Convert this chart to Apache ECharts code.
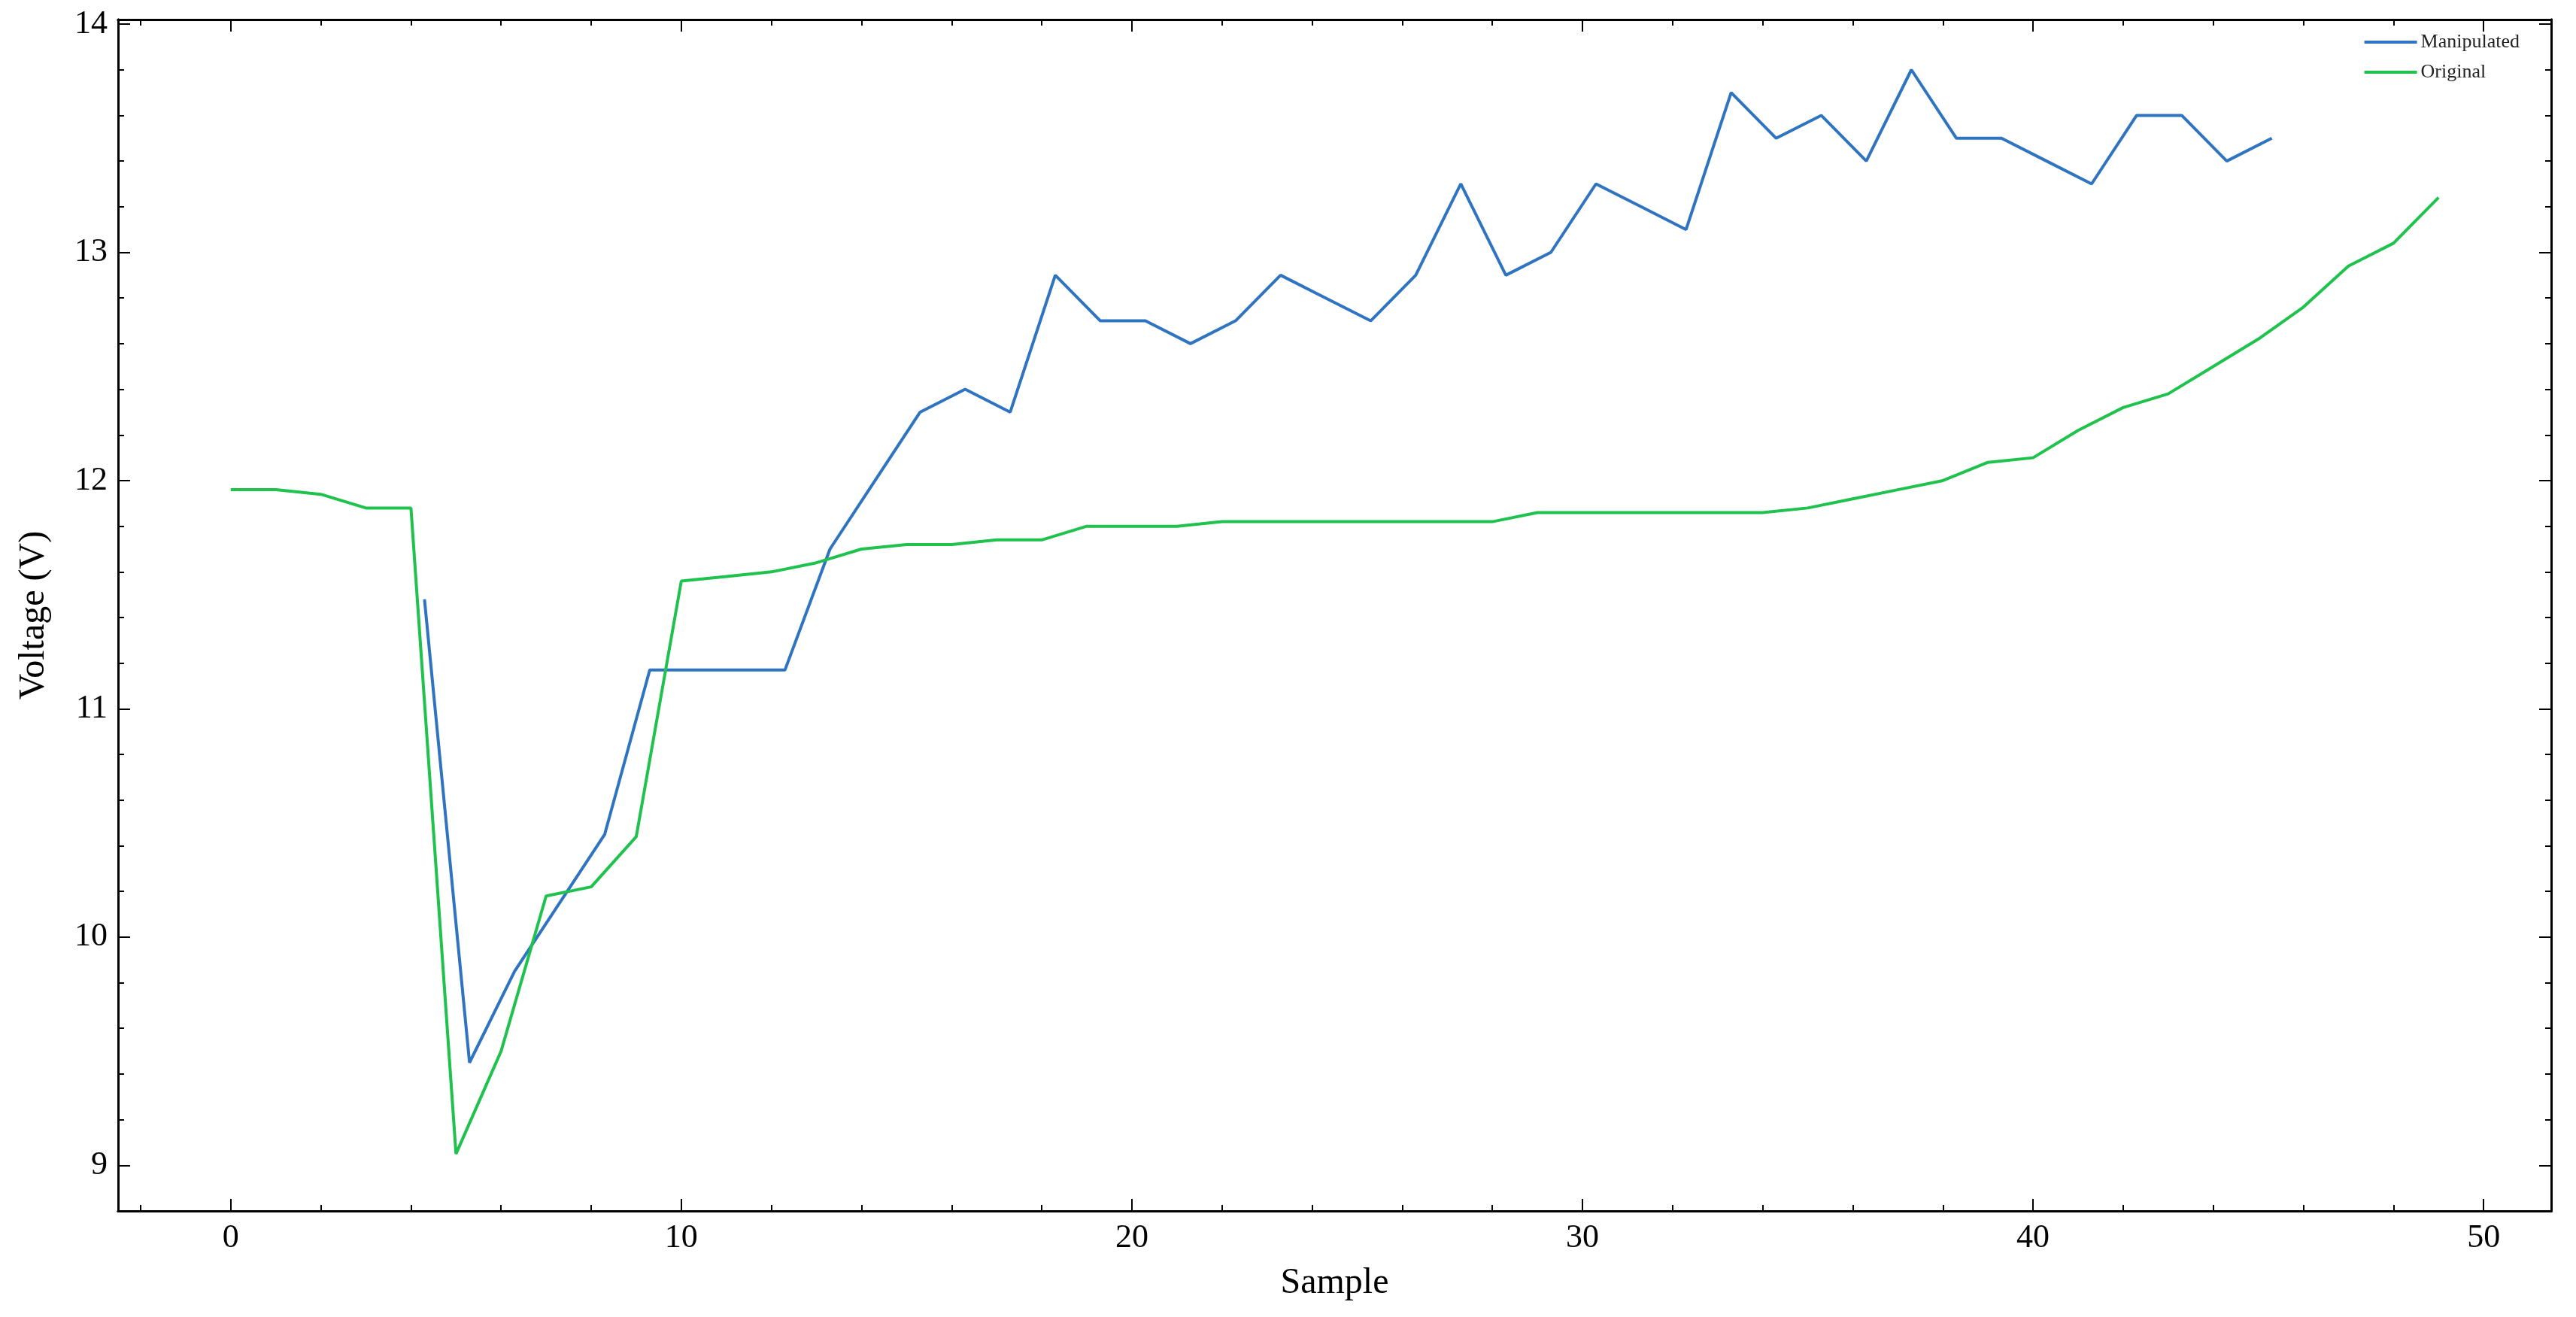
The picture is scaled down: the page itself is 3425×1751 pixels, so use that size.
<!DOCTYPE html>
<html>
<head>
<meta charset="utf-8">
<title>Voltage</title>
<script src="https://cdn.jsdelivr.net/npm/echarts@6/dist/echarts.min.js"></script>
</head>
<body style="margin:0">
<div id="main" style="width:3425px;height:1751px;"></div>
<script type="text/javascript">
// data
var manipX = [4.3, 5.3, 6.3, 7.3, 8.3, 9.3, 10.3, 11.3, 12.3, 13.3, 14.3, 15.3, 16.3, 17.3, 18.3, 19.3, 20.3, 21.3, 22.3, 23.3, 24.3, 25.3, 26.3, 27.3, 28.3, 29.3, 30.3, 31.3, 32.3, 33.3, 34.3, 35.3, 36.3, 37.3, 38.3, 39.3, 40.3, 41.3, 42.3, 43.3, 44.3, 45.3];
var manipY = [11.48, 9.45, 9.85, 10.15, 10.45, 11.17, 11.17, 11.17, 11.17, 11.7, 12.0, 12.3, 12.4, 12.3, 12.9, 12.7, 12.7, 12.6, 12.7, 12.9, 12.8, 12.7, 12.9, 13.3, 12.9, 13.0, 13.3, 13.2, 13.1, 13.7, 13.5, 13.6, 13.4, 13.8, 13.5, 13.5, 13.4, 13.3, 13.6, 13.6, 13.4, 13.5];
var origY = [11.96, 11.96, 11.94, 11.88, 11.88, 9.05, 9.5, 10.18, 10.22, 10.44, 11.56, 11.58, 11.6, 11.64, 11.7, 11.72, 11.72, 11.74, 11.74, 11.8, 11.8, 11.8, 11.82, 11.82, 11.82, 11.82, 11.82, 11.82, 11.82, 11.86, 11.86, 11.86, 11.86, 11.86, 11.86, 11.88, 11.92, 11.96, 12.0, 12.08, 12.1, 12.22, 12.32, 12.38, 12.5, 12.62, 12.76, 12.94, 13.04, 13.24];
var xTicks = [0, 10, 20, 30, 40, 50];
var yTicks = [9, 10, 11, 12, 13, 14];
var xMinor = [-2, 2, 4, 6, 8, 12, 14, 16, 18, 22, 24, 26, 28, 32, 34, 36, 38, 42, 44, 46, 48];
var yMinor = [];
for (var v = 8.8; v < 14.01; v += 0.2) {
    var r = Math.round(v * 10) / 10;
    if (Math.abs(r - Math.round(r)) > 0.01) yMinor.push(r);
}

var font = 'Liberation Serif';
var manipData = manipX.map(function (x, i) { return [x, manipY[i]]; });
var origData = origY.map(function (y, i) { return [i, y]; });

function xAx(pos, ticks, len, labels) {
    return {
        type: 'value', position: pos, min: -2.5, max: 51.5,
        axisLine: { show: true, onZero: false, lineStyle: { color: '#000', width: 3 } },
        axisTick: { show: true, inside: true, length: len, customValues: ticks, lineStyle: { color: '#000', width: 2 } },
        axisLabel: { show: labels, customValues: ticks, color: '#000', fontFamily: font, fontSize: 44, margin: 14 },
        splitLine: { show: false },
        name: labels ? 'Sample' : '', nameLocation: 'middle', nameGap: 72,
        nameTextStyle: { color: '#000', fontFamily: font, fontSize: 48 }
    };
}
function yAx(pos, ticks, len, labels) {
    return {
        type: 'value', position: pos, min: 8.8, max: 14.02,
        axisLine: { show: true, onZero: false, lineStyle: { color: '#000', width: 3 } },
        axisTick: { show: true, inside: true, length: len, customValues: ticks, lineStyle: { color: '#000', width: 2 } },
        axisLabel: { show: labels, customValues: ticks, color: '#000', fontFamily: font, fontSize: 44, margin: 14 },
        splitLine: { show: false },
        name: labels ? 'Voltage (V)' : '', nameLocation: 'middle', nameGap: 88, nameRotate: 90,
        nameTextStyle: { color: '#000', fontFamily: font, fontSize: 48 }
    };
}

var myChart = echarts.init(document.getElementById('main'));
var option = {
    backgroundColor: '#fff',
    animation: false,
    grid: { left: 157, right: 33, top: 26, bottom: 141 },
    legend: {
        right: 70, top: 38, orient: 'vertical', itemGap: 14,
        itemWidth: 70, itemHeight: 4, icon: 'rect',
        textStyle: { fontFamily: font, fontSize: 26, color: '#222' },
        data: ['Manipulated', 'Original']
    },
    xAxis: [xAx('bottom', xTicks, 16, true), xAx('bottom', xMinor, 8, false),
            xAx('top', xTicks, 16, false), xAx('top', xMinor, 8, false)],
    yAxis: [yAx('left', yTicks, 16, true), yAx('left', yMinor, 8, false),
            yAx('right', yTicks, 16, false), yAx('right', yMinor, 8, false)],
    series: [
        { name: 'Manipulated', type: 'line', data: manipData, showSymbol: false,
          lineStyle: { color: '#2f74c0', width: 4 }, itemStyle: { color: '#2f74c0' } },
        { name: 'Original', type: 'line', data: origData, showSymbol: false,
          lineStyle: { color: '#1ec24d', width: 4 }, itemStyle: { color: '#1ec24d' } }
    ]
};
myChart.setOption(option, true);
</script>
</body>
</html>
